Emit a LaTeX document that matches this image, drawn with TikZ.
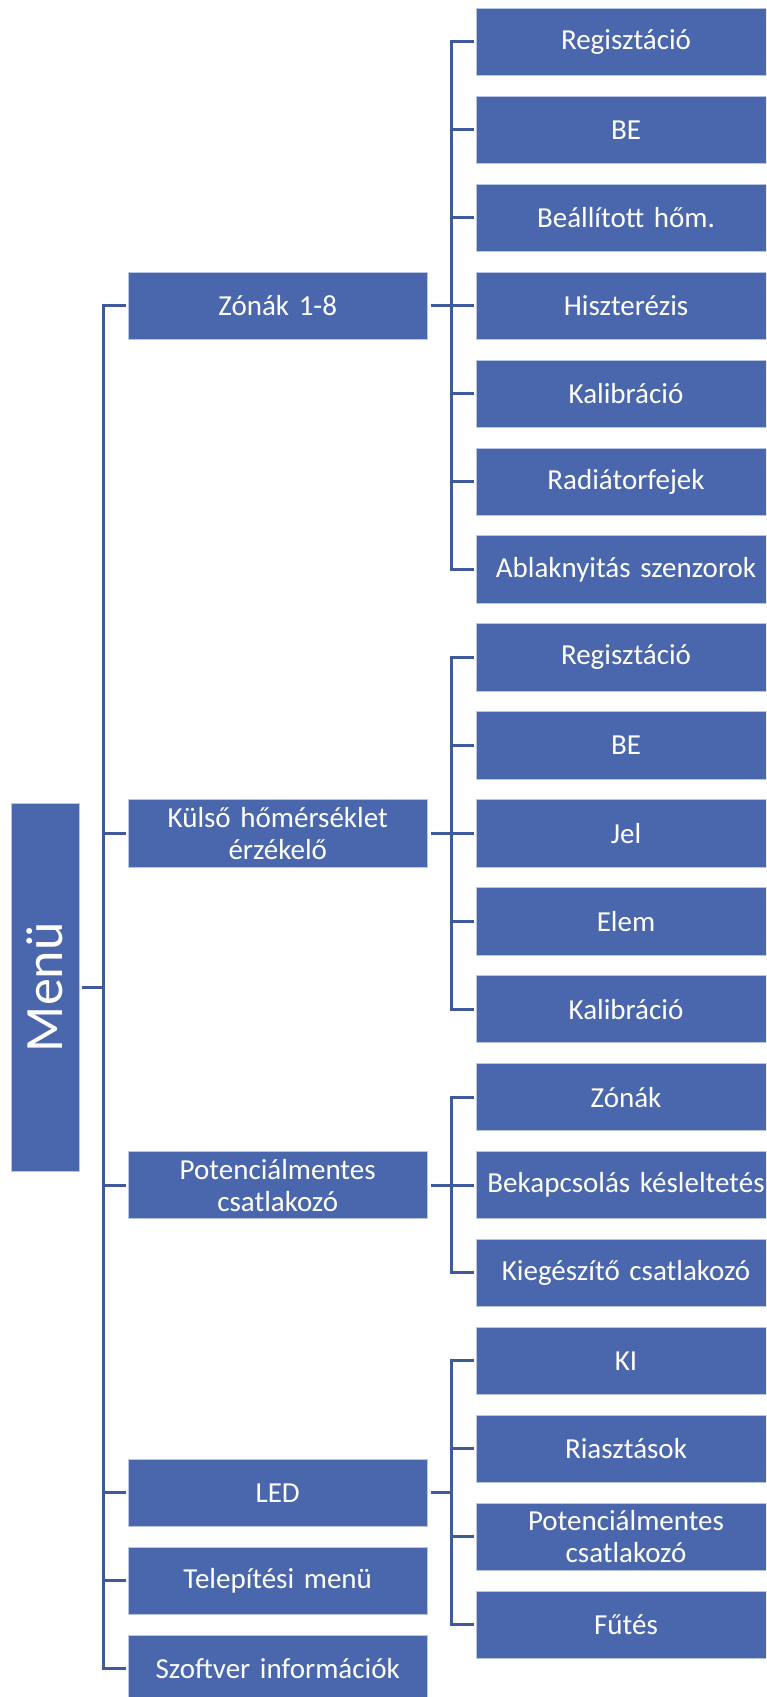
\documentclass[tikz,border=0pt]{standalone}
\usepackage{fontspec}
\setmainfont[WordSpace=0.85]{Carlito}
\definecolor{boxfill}{HTML}{4A67AD}
\definecolor{boxedge}{HTML}{B9C5E4}
\definecolor{conncol}{HTML}{3F5A9C}
\tikzset{
  base/.style={draw=boxedge, line width=0.8pt, fill=boxfill, text=white, align=center, inner sep=0pt,
    font=\fontsize{29}{32}\selectfont},
  lone/.style={base, minimum width=299.5pt, minimum height=67.3pt, text width=290pt},
  ltwo/.style={base, minimum width=300pt, minimum height=67.3pt, text width=300pt},
  rootbox/.style={base, minimum width=68pt, minimum height=368pt, font=\fontsize{54}{60}\selectfont},
  conn/.style={draw=conncol, line width=3pt, shorten <=3pt, shorten >=2pt}
}
\begin{document}
\begin{tikzpicture}[x=1pt,y=-1pt]
\useasboundingbox (0,0) rectangle (766,1697);
\clip (0,0) rectangle (766,1697);
% root
\node[rootbox] (menu) at (45,987.2) {\rotatebox{90}{Menü}};
% level 1
\node[lone] (zon) at (277.7,305.74) {Zónák 1-8};
\node[lone] (kul) at (277.7,833.32) {Külső hőmérséklet\\érzékelő};
\node[lone] (pot) at (277.7,1185.04) {Potenciálmentes\\csatlakozó};
\node[lone] (led) at (277.7,1492.8) {LED};
\node[lone] (tel) at (277.7,1580.7) {Telepítési menü};
\node[lone] (szo) at (277.7,1668.6) {Szoftver információk};
% level 2
\node[ltwo] (z1) at (626,41.95) {Regisztáció};
\node[ltwo] (z2) at (626,129.88) {BE};
\node[ltwo] (z3) at (626,217.81) {Beállított hőm.};
\node[ltwo] (z4) at (626,305.74) {Hiszterézis};
\node[ltwo] (z5) at (626,393.67) {Kalibráció};
\node[ltwo] (z6) at (626,481.6) {Radiátorfejek};
\node[ltwo] (z7) at (626,569.53) {Ablaknyitás szenzorok};
\node[ltwo] (k1) at (626,657.46) {Regisztáció};
\node[ltwo] (k2) at (626,745.39) {BE};
\node[ltwo] (k3) at (626,833.32) {Jel};
\node[ltwo] (k4) at (626,921.25) {Elem};
\node[ltwo] (k5) at (626,1009.18) {Kalibráció};
\node[ltwo] (p1) at (626,1097.11) {Zónák};
\node[ltwo] (p2) at (626,1185.04) {Bekapcsolás késleltetés};
\node[ltwo] (p3) at (626,1272.97) {Kiegészítő csatlakozó};
\node[ltwo] (l1) at (626,1360.9) {KI};
\node[ltwo] (l2) at (626,1448.83) {Riasztások};
\node[ltwo] (l3) at (626,1536.76) {Potenciálmentes\\csatlakozó};
\node[ltwo] (l4) at (626,1624.69) {Fűtés};
% connectors root -> level 1
\foreach \c in {zon,kul,pot,led,tel,szo}
  \draw[conn] (menu.east) -- ++(24.5,0) |- (\c.west);
% level 1 -> level 2
\foreach \c in {z1,z2,z3,z4,z5,z6,z7}
  \draw[conn] (zon.east) -- ++(24,0) |- (\c.west);
\foreach \c in {k1,k2,k3,k4,k5}
  \draw[conn] (kul.east) -- ++(24,0) |- (\c.west);
\foreach \c in {p1,p2,p3}
  \draw[conn] (pot.east) -- ++(24,0) |- (\c.west);
\foreach \c in {l1,l2,l3,l4}
  \draw[conn] (led.east) -- ++(24,0) |- (\c.west);
\end{tikzpicture}
\end{document}
